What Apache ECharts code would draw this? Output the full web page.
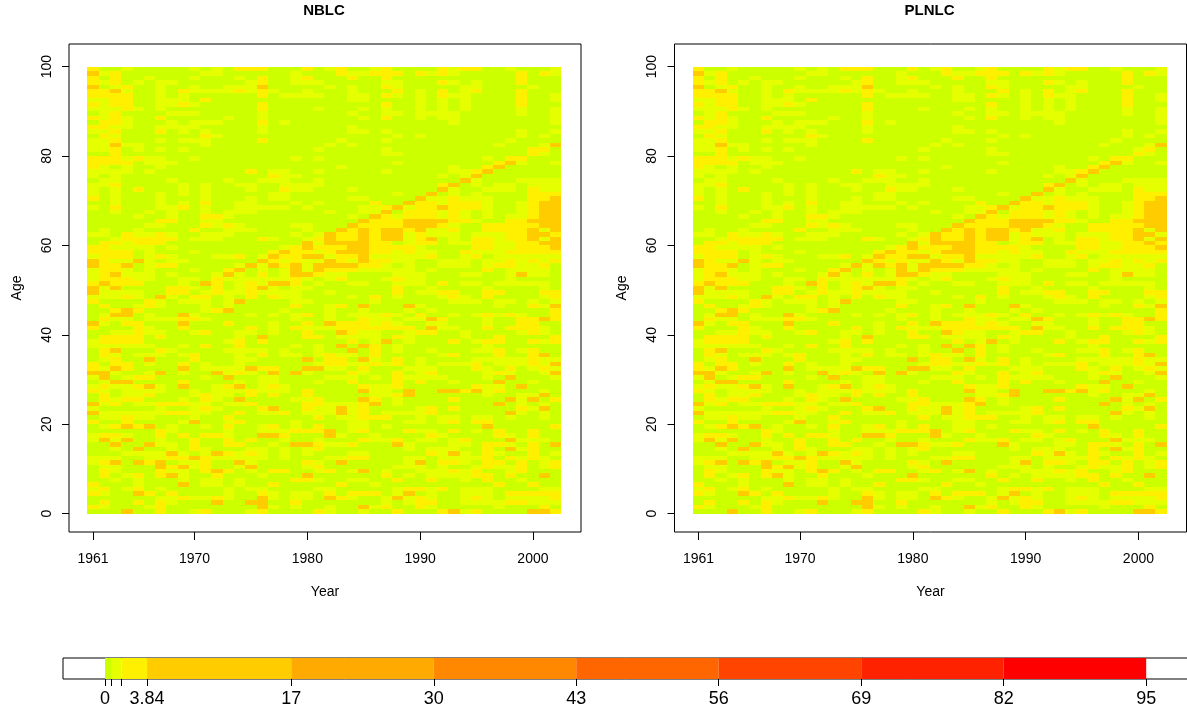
<!DOCTYPE html>
<html><head><meta charset="utf-8">
<script src="https://cdn.jsdelivr.net/npm/echarts@6/dist/echarts.min.js"></script>
<style>html,body{margin:0;padding:0;background:#fff}#c{width:1187px;height:711px}</style>
</head><body><div id="c"></div>
<script>
const firstYear = 1961;
const topAgeBand = 99;
const yearTicks = [1961, 1970, 1980, 1990, 2000];
const ageTicks = [0, 20, 40, 60, 80, 100];
const legendBreaks = [0, 0.55, 1.5, 3.84, 17, 30, 43, 56, 69, 82, 95];
const legendLabels = [0, 3.84, 17, 30, 43, 56, 69, 82, 95];
const legendColors = ['#CCFF00', '#E6FF00', '#FFF000', '#FFCC00', '#FFAA00', '#FF8800', '#FF6600', '#FF4400', '#FF2200', '#FF0000'];
// Each digit is the colour band of one cell. Rows run from age 99 down to age 0.
const nblc1961to1981 = [
"200100000101022200020","312000000011000000100","202001000100010200120","212010110000001200111","301200100100111300000",
"223100102111121210010","222200101000000201111","112200111020000000000","212200112100000200000","111210100000000200001",
"012000011100000100000","212100200000100100000","022100010111000201000","221100111100000100000","112000201010000100000",
"021000000021000000000","112000101110000200000","113110000010000000000","112010101000000000001","002000000000000000000",
"222121100100000000101","222201110000000000000","210100100000000000000","111101000000002011001","101000000000000021100",
"011000010000100111001","112000001010011001111","101020001010001002110","101000101010000011000","201000100010001011000",
"001000101020011000101","102000112010011111010","001001010010111000000","000010010022100000000","000000220011000000000",
"000001100021210000110","010010000200111000010","110211210011100000101","001222220111000210012","022122200000000000031",
"221111010000000001232","222201000100000023221","122201210001120132233","321131011000000321211","322301220000013132313",
"122101000100230101313","123111010001310201332","122211001102111111210","232220001032012133201","313000022102012310110",
"311110022012112111100","111210310220102021100","200002101110130000110","020012100010100000200","002320000012300001000",
"013301003100001010120","021101112210000000100","310220003000200010020","200021002000002010211","001121100120011010020",
"022220200000010300022","122220000000120200000","111111001020020000101","023000210000111101001","021011101200010201101",
"012003000200011000030","202201002010010000001","213200003011113220033","331001301003121030310","130122000010300110000",
"013300002000010110001","121123103001230121000","210111100101112111020","020112000121102020020","021220001021030000112",
"312011222110112000022","100000100121000230021","311111122110020112011","011211000100200000002","200200001300120000100",
"012323010010200120102","000000210000100111222","122100202022100332000","131300100200202001001","003003110200220010332",
"001030010210001101012","000111131013212101010","111001122321111101000","123032301120031000021","011000323120013000012",
"021000211023201022001","020120231002000100030","001010001011010000221","200010003011010020000","120120100000101100001",
"210032020000100210110","000000112112100310110","020020210003003300200","210001200000000310100","000300200120001200002"
];
const nblc1982to2002 = [
"120012000021220010001","021122202121000002021","002002000000000002000","000001100021010002000","101002100000110000100",
"001000201020120002000","001102101021100002001","001100001010100002001","000002001010100002000","000101001010100001001",
"001001101111000001001","000102001011000000001","000000000001000000001","001000000000000000000","001101000000000001001",
"000000101000000001010","010001000000000010000","101000000000000100013","000001000000000000220","000001100000000000210",
"000000000000001022000","000000100000000231001","010000000001002300000","000001000001123000000","000000000010130000000",
"000000000000310001111","000000000023010110111","001000000031001110211","000000100301010000222","001100003112111000223",
"000020032212221001233","000112312232221001233","100113022212101001233","001032122212101011233","000322233332210022333",
"003222233321002222233","032323323112002222313","322323312111011122332","322323312301022122313","333322012201122112233",
"223322221000022112223","233322121100211122222","122311111200120111111","321322110011101121212","333221010011101221120",
"222111110100002011110","110000111000110013110","120001211000000010000","001100111020110111110","000000200100001000010",
"100000201122002200022","001020100012102000012","000010000001110110101","120300031000000100213","100100010100000000002",
"101112102001012121002","100211011320001002232","322212100110001002200","122222220311002022210","032110012200100001210",
"011110210000100200002","002013010002012200212","030320100000001000000","003020100100011201200","211020000012000200230",
"220310201000011111211","221121201011120111213","110200011100021020121","002100201200001210013","111010211110001030001",
"002000202001000300100","000211200000021103000","000311030033231200010","000011230000001001130","000320100002000031302",
"111230100000000301010","131200001202000002130","131201111200000031010","011222001011011010010","001100011012022000000",
"001101000000003000002","301200021102010200200","310010000210000210200","000211201101200031110","112000310001102210203",
"000000010111002031200","001100000213102100201","112200011011112021210","030000013022102202012","000000111010012112012",
"201301001112120012000","000002010111122020030","001100200200102001000","020010000000000200200","100000122120111000011",
"202220130100111022222","321001312100121011112","000001012200111122111","100312002100000100020","100100200023120000332"
];
// Cells where PLNLC differs from NBLC: [row, column, band]
const plnlcDifferences = [[39, 41, 2], [37, 41, 1], [18, 39, 1], [44, 38, 1]];

function cellsFor(early, late, differences) {
  const grid = early.map((row, r) => (row + late[r]).split('').map(Number));
  differences.forEach(d => { grid[d[0]][d[1]] = d[2]; });
  const out = [];
  grid.forEach((row, r) => row.forEach((band, c) => out.push([firstYear + c, topAgeBand - r, band])));
  return out;
}
const nblcCells = cellsFor(nblc1961to1981, nblc1982to2002, []);
const plnlcCells = cellsFor(nblc1961to1981, nblc1982to2002, plnlcDifferences);

function renderCell(params, api) {
  const a = api.coord([api.value(0) - 0.5, api.value(1) + 1]);
  const b = api.coord([api.value(0) + 0.5, api.value(1)]);
  const x = Math.round(a[0]), y = Math.round(a[1]);
  return { type: 'rect', shape: { x, y, width: Math.round(b[0]) - x, height: Math.round(b[1]) - y },
    style: { fill: legendColors[api.value(2)] } };
}
function renderLegend(params, api) {
  const a = api.coord([api.value(0), 0]);
  const b = api.coord([api.value(1), 1]);
  return { type: 'rect', shape: { x: a[0], y: b[1], width: b[0] - a[0], height: a[1] - b[1] },
    style: { fill: legendColors[api.value(2)] } };
}
const ink = '#000';
const font = { fontFamily: 'Liberation Sans, Arial, sans-serif' };
const panels = [[69, 'NBLC', nblcCells], [674.5, 'PLNLC', plnlcCells]];
const legendData = legendColors.map((c, i) => [legendBreaks[i], legendBreaks[i + 1], i]);

const option = {
  animation: false,
  backgroundColor: '#fff',
  title: panels.map((p, i) => ({
    text: p[1], left: p[0] + 250, top: -2, textAlign: 'center',
    textStyle: { ...font, fontSize: 15, fontWeight: 'bold', color: ink }
  })),
  grid: [
    ...panels.map(p => ({ left: p[0], top: 44, width: 512, height: 488, show: true, borderColor: ink, borderWidth: 1, backgroundColor: '#fff', outerBoundsMode: 'none' })),
    { left: 63, top: 658, width: 1137, height: 21, show: true, borderColor: ink, borderWidth: 1, backgroundColor: '#fff', z: 1, outerBoundsMode: 'none' }
  ],
  xAxis: [
    ...panels.map((p, i) => ({
      type: 'value', gridIndex: i, min: 1958.87, max: 2004.26, splitLine: { show: false },
      name: 'Year', nameLocation: 'middle', nameGap: 53,
      nameTextStyle: { ...font, fontSize: 14, color: ink },
      axisLine: { show: false, onZero: false },
      axisTick: { show: true, length: 8, customValues: yearTicks, lineStyle: { color: ink } },
      axisLabel: { ...font, fontSize: 14, color: ink, margin: 20, customValues: yearTicks, formatter: v => String(v), hideOverlap: false }
    })),
    { type: 'value', gridIndex: 2, min: -3.83, max: 99.91, splitLine: { show: false },
      axisLine: { show: false, onZero: false },
      axisTick: { show: true, length: 7, customValues: legendBreaks, lineStyle: { color: ink } },
      axisLabel: { ...font, fontSize: 18, color: ink, margin: 11, customValues: legendLabels, formatter: v => String(v) } }
  ],
  yAxis: [
    ...panels.map((p, i) => ({
      type: 'value', gridIndex: i, min: -4.1, max: 105.07, splitLine: { show: false },
      name: 'Age', nameLocation: 'middle', nameGap: 45, nameRotate: 90,
      nameTextStyle: { ...font, fontSize: 14, color: ink },
      axisLine: { show: false, onZero: false },
      axisTick: { show: true, length: 7, customValues: ageTicks, lineStyle: { color: ink } },
      axisLabel: { ...font, fontSize: 14, color: ink, rotate: 90, margin: 15, customValues: ageTicks, formatter: v => String(v) }
    })),
    { type: 'value', gridIndex: 2, min: 0, max: 1, show: false }
  ],
  series: [
    { type: 'custom', name: 'NBLC', xAxisIndex: 0, yAxisIndex: 0, coordinateSystem: 'cartesian2d', renderItem: renderCell, data: nblcCells, encode: { x: 0, y: 1 }, progressive: 0, silent: true, clip: true },
    { type: 'custom', name: 'PLNLC', xAxisIndex: 1, yAxisIndex: 1, coordinateSystem: 'cartesian2d', renderItem: renderCell, data: plnlcCells, encode: { x: 0, y: 1 }, progressive: 0, silent: true, clip: true },
    { type: 'custom', name: 'scale', xAxisIndex: 2, yAxisIndex: 2, coordinateSystem: 'cartesian2d', renderItem: renderLegend, data: legendData, encode: { x: [0, 1] }, progressive: 0, silent: true, clip: true }
  ]
};
echarts.init(document.getElementById('c'), null, { renderer: 'canvas' }).setOption(option);
</script></body></html>
